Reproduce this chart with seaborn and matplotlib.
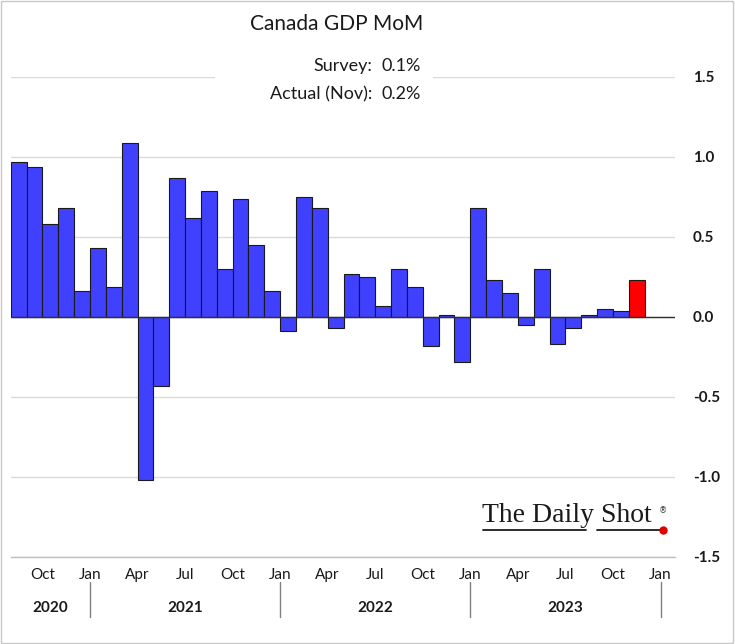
import matplotlib
matplotlib.use("Agg")
import matplotlib.pyplot as plt
import matplotlib.transforms as mtransforms
from matplotlib.patches import Rectangle
from matplotlib.lines import Line2D
import numpy as np
import pandas as pd
import seaborn as sns

# ---------------- data ----------------
months = [d.strftime("%Y-%m") for d in pd.date_range("2020-08-01", "2023-11-01", freq="MS")]
values = [0.97, 0.94, 0.58, 0.68, 0.16,
          0.43, 0.19, 1.09, -1.02, -0.43, 0.87, 0.62, 0.79, 0.30, 0.74, 0.45, 0.16,
          -0.09, 0.75, 0.68, -0.07, 0.27, 0.25, 0.07, 0.30, 0.19, -0.18, 0.01, -0.28,
          0.68, 0.23, 0.15, -0.05, 0.30, -0.17, -0.07, 0.01, 0.05, 0.04, 0.23]
status = ["history"] * (len(values) - 1) + ["latest"]
tick_months = ["Oct", "Jan", "Apr", "Jul", "Oct", "Jan", "Apr", "Jul",
               "Oct", "Jan", "Apr", "Jul", "Oct", "Jan"]
years = ["2020", "2021", "2022", "2023"]
y_ticks = [1.5, 1.0, 0.5, 0.0, -0.5, -1.0, -1.5]
y_tick_labels = ["1.5", "1.0", "0.5", "0.0", "-0.5", "-1.0", "-1.5"]
title = "Canada GDP MoM"
survey_label, survey_value = "Survey:", "0.1%"
actual_label, actual_value = "Actual (Nov):", "0.2%"

df = pd.DataFrame({"month": months, "value": values, "status": status})

# ---------------- style ----------------
sns.set_theme(style="white")
plt.rcParams["font.family"] = ["Lato", "DejaVu Sans"]

W, H = 735, 644
fig = plt.figure(figsize=(W / 100, H / 100), dpi=100)

def fx(px):
    return px / W

def fy(py):
    return 1 - py / H

x0, x1 = 10.7, 674.6
ytop, ybot = 77, 557
ax = fig.add_axes([fx(x0), fy(ybot), (x1 - x0) / W, (ybot - ytop) / H])

sns.barplot(data=df, x="month", y="value", hue="status", order=months,
            palette={"history": "#4040FF", "latest": "#FF0000"}, saturation=1,
            dodge=False, width=1.0, edgecolor="#1a1a1a", linewidth=0.8,
            legend=False, ax=ax, zorder=3)

# x axis: ticks at month boundaries (first day of each quarter)
def month_pos(year, month):
    return (year - 2020) * 12 + (month - 8) - 0.5

tick_pos = [month_pos(2020 + (9 + 3 * i) // 12, (9 + 3 * i) % 12 + 1) for i in range(len(tick_months))]
ax.set_xticks(tick_pos)
ax.set_xticklabels(tick_months, fontsize=11, color="#1a1a1a")
ax.set_xlim(-0.5, -0.5 + (x1 - x0) / 15.85)
ax.set_xlabel("")
ax.set_ylabel("")

ax.set_ylim(-1.5, 1.5)
ax.yaxis.tick_right()
ax.set_yticks(y_ticks)
ax.set_yticklabels(y_tick_labels, fontsize=11, fontweight="bold", color="#1a1a1a")
ax.tick_params(axis="y", length=0, pad=13)
ax.tick_params(axis="x", direction="in", length=5, width=1, color="#808080", pad=8)

ax.grid(axis="y", color="#dadada", linewidth=1)
ax.grid(axis="x", visible=False)
ax.set_axisbelow(True)
ax.axhline(0, color="#303030", linewidth=1, zorder=4)

for s in ["top", "left", "right"]:
    ax.spines[s].set_visible(False)
ax.spines["bottom"].set_color("#bfbfbf")
ax.spines["bottom"].set_linewidth(1)

# year separators and labels
trans = mtransforms.blended_transform_factory(ax.transData, ax.transAxes)
bounds = [-0.5] + [month_pos(y, 1) for y in (2021, 2022, 2023, 2024)]
for b in bounds[1:]:
    ax.add_line(Line2D([b, b], [(ybot - 582) / 480, (ybot - 617) / 480],
                       transform=trans, color="#808080", lw=1, clip_on=False))
for i, yr in enumerate(years):
    ax.text((bounds[i] + bounds[i + 1]) / 2, (ybot - 608) / 480, yr,
            transform=trans, ha="center", va="center", fontsize=11,
            fontweight="bold", color="#1a1a1a", clip_on=False)

# title & annotation box
fig.add_artist(Rectangle((fx(215), fy(112)), (433 - 215) / W, (112 - 50) / H,
                         transform=fig.transFigure, facecolor="white",
                         edgecolor="none", zorder=2))
fig.text(fx(337), fy(24), title, ha="center", va="center", fontsize=15,
         color="#1a1a1a", zorder=3)
fig.text(fx(372), fy(66), survey_label, ha="right", va="center", fontsize=13,
         color="#1a1a1a", zorder=3)
fig.text(fx(382), fy(66), survey_value, ha="left", va="center", fontsize=13,
         color="#1a1a1a", zorder=3)
fig.text(fx(372), fy(94), actual_label, ha="right", va="center", fontsize=13,
         color="#1a1a1a", zorder=3)
fig.text(fx(382), fy(94), actual_value, ha="left", va="center", fontsize=13,
         color="#1a1a1a", zorder=3)

# logo
fig.text(fx(482), fy(515), "The Daily Shot", ha="left", va="center",
         fontsize=20, family="Liberation Serif", color="#1a1a1a", zorder=3)
fig.text(fx(659), fy(511), "®", ha="left", va="center", fontsize=6,
         family="DejaVu Sans", color="#333333", zorder=3)
fig.add_artist(Line2D([fx(483), fx(586)], [fy(530), fy(530)], transform=fig.transFigure,
                      color="#1a1a1a", lw=1.3, zorder=3))
fig.add_artist(Line2D([fx(597), fx(662)], [fy(530), fy(530)], transform=fig.transFigure,
                      color="#1a1a1a", lw=1.3, zorder=3))
fig.add_artist(Line2D([fx(663)], [fy(530)], transform=fig.transFigure, marker="o",
                      markersize=5, color="#e00000", lw=0, zorder=4))

# figure border
fig.add_artist(Rectangle((0.001, 0.002), 0.996, 0.996, transform=fig.transFigure,
                         facecolor="none", edgecolor="#c8c8c8", lw=1, zorder=5))

fig.savefig("out.png", dpi=100)
